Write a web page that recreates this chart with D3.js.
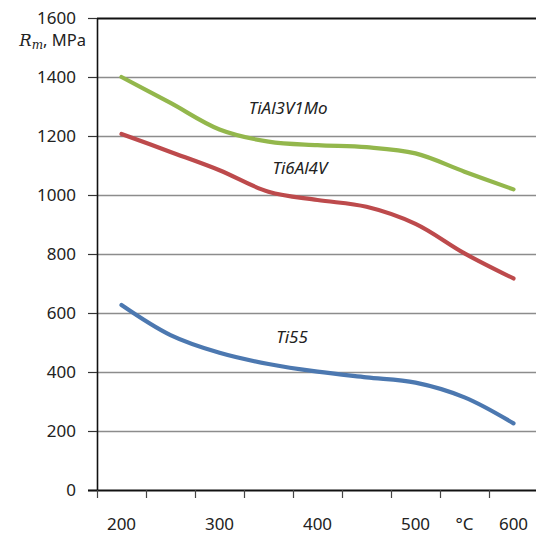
<!DOCTYPE html>
<html>
<head>
<meta charset="utf-8">
<script src="https://cdn.jsdelivr.net/npm/d3@7"></script>
<style>
  html, body { margin: 0; padding: 0; background: #fff; }
  svg { display: block; font-family: "Noto Sans", "Open Sans", sans-serif; }
</style>
</head>
<body>
<svg id="chart" width="536" height="535"></svg>
<script>
// Ultimate tensile strength of titanium alloys vs. temperature
const temperatures = [200, 250, 300, 350, 400, 450, 500, 550, 600];
const tiAl3V1Mo = [1400, 1312, 1222, 1181, 1169, 1162, 1141, 1079, 1019];
const ti6Al4V   = [1207, 1146, 1084, 1011, 983, 960, 902, 802, 717];
const ti55      = [627, 525, 465, 427, 401, 382, 364, 314, 226];

const seriesNames  = ["TiAl3V1Mo", "Ti6Al4V", "Ti55"];
const seriesColors = ["#93b74c", "#bd4a4c", "#4c78b0"];
// where each series name is written: [temperature, strength]
const labelAnchors = [[370, 1295], [382, 1092], [374, 519]];

const yTicks = [0, 200, 400, 600, 800, 1000, 1200, 1400, 1600];
const xLabels = [200, 300, 400, 500, 600];
const xUnit = "°C";
const xUnitAt = 550;

const svg = d3.select("#chart");
const plotLeft = 97, plotTop = 18, plotBottom = 490, plotRight = 538;

const x = d3.scaleLinear().domain([175, 625]).range([plotLeft, plotRight]);
const y = d3.scaleLinear().domain([0, 1600]).range([plotBottom, plotTop]);

// horizontal gridlines
svg.append("g")
  .attr("transform", `translate(${plotLeft},0)`)
  .call(d3.axisLeft(y).tickValues(yTicks.filter(v => v > 0 && v < 1600))
        .tickSize(-(plotRight - plotLeft)).tickFormat(""))
  .call(g => g.select(".domain").remove())
  .call(g => g.selectAll("line").attr("stroke", "#8c8c8c").attr("stroke-width", 1.3));

// top boundary line
svg.append("g")
  .attr("transform", `translate(${plotLeft},0)`)
  .call(d3.axisLeft(y).tickValues([1600]).tickSize(-(plotRight - plotLeft)).tickFormat(""))
  .call(g => g.select(".domain").remove())
  .call(g => g.selectAll("line").attr("stroke", "#111").attr("stroke-width", 2));

// y axis
svg.append("g")
  .attr("transform", `translate(${plotLeft},0)`)
  .call(d3.axisLeft(y).tickValues(yTicks).tickFormat(d3.format("d"))
        .tickSize(9).tickSizeOuter(0).tickPadding(12))
  .call(g => g.select(".domain").attr("stroke", "#111").attr("stroke-width", 1.6))
  .call(g => g.selectAll("line").attr("stroke", "#333").attr("stroke-width", 1.2))
  .call(g => g.selectAll("text").attr("font-size", 17).attr("fill", "#222")
        .attr("font-family", "Noto Sans, Open Sans, sans-serif"));

// x axis: category boundary ticks
svg.append("g")
  .attr("transform", `translate(0,${plotBottom})`)
  .call(d3.axisBottom(x).tickValues(d3.range(175, 626, 50)).tickSize(8)
        .tickSizeOuter(0).tickFormat(""))
  .call(g => g.select(".domain").attr("stroke", "#111").attr("stroke-width", 1.8)
        .attr("d", `M${plotLeft - 9},0.5H${plotRight}`))
  .call(g => g.selectAll("line").attr("stroke", "#444").attr("stroke-width", 1.2));

// x labels
svg.append("g").selectAll("text")
  .data(xLabels)
  .join("text")
  .attr("x", d => x(d))
  .attr("y", 530)
  .attr("text-anchor", "middle")
  .attr("font-size", 17)
  .attr("fill", "#222")
  .text(d => d);

svg.append("text")
  .attr("x", x(xUnitAt))
  .attr("y", 530)
  .attr("text-anchor", "middle")
  .attr("font-size", 17)
  .attr("fill", "#222")
  .text(xUnit);

// y axis title: R_m, MPa
const title = svg.append("text")
  .attr("x", 86)
  .attr("y", 46)
  .attr("text-anchor", "end")
  .attr("font-size", 16.5)
  .attr("fill", "#222");
title.append("tspan").attr("font-family", "DejaVu Serif, Liberation Serif, serif")
  .attr("font-style", "italic").text("R");
title.append("tspan").attr("font-family", "DejaVu Serif, Liberation Serif, serif")
  .attr("font-style", "italic").attr("font-size", 12).attr("dy", 3).text("m");
title.append("tspan").attr("dy", -3).text(", MPa");

// series lines
const series = [tiAl3V1Mo, ti6Al4V, ti55];
const line = d3.line()
  .x((d, i) => x(temperatures[i]))
  .y(d => y(d))
  .curve(d3.curveCatmullRom.alpha(0.5));

svg.append("g").selectAll("path")
  .data(series)
  .join("path")
  .attr("d", line)
  .attr("fill", "none")
  .attr("stroke", (d, i) => seriesColors[i])
  .attr("stroke-width", 4.2)
  .attr("stroke-linejoin", "round")
  .attr("stroke-linecap", "round");

// series names
svg.append("g").selectAll("text")
  .data(seriesNames)
  .join("text")
  .attr("x", (d, i) => x(labelAnchors[i][0]))
  .attr("y", (d, i) => y(labelAnchors[i][1]))
  .attr("text-anchor", "middle")
  .attr("dominant-baseline", "central")
  .attr("font-style", "italic")
  .attr("font-size", 17)
  .attr("fill", "#222")
  .text(d => d);
</script>
</body>
</html>
